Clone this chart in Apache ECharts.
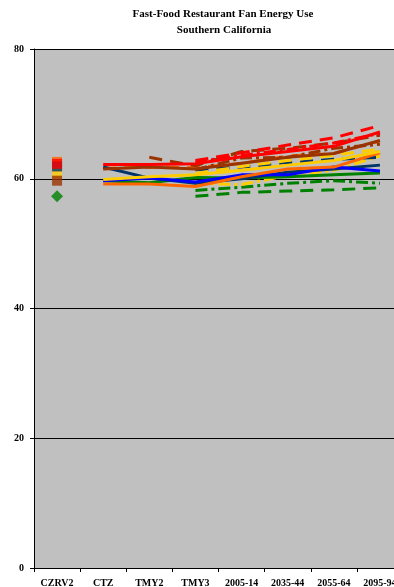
<!DOCTYPE html>
<html><head><meta charset="utf-8">
<script src="https://cdn.jsdelivr.net/npm/echarts@6/dist/echarts.min.js"></script>
<style>html,body{margin:0;padding:0;background:#fff;overflow:hidden}#c{width:410px;height:587px}</style>
</head><body><div id="c"></div>
<script>
var categories = ['CZRV2','CTZ','TMY2','TMY3','2005-14','2035-44','2055-64','2095-94'];
var yTicks = [0, 20, 40, 60, 80];

// CZRV2 single markers
var czOrange = 62.6, czNavy = 61.9, czYellow = 60.9, czRed = 62.3, czBrown = 59.7, czGreen = 57.3;

// solid lines (CTZ .. 2095-94)
var redSolid    = [null, 62.2, 62.2, 62.3, 63.4, 64.2, 65.0, 67.2];
var brownSolid  = [null, 61.5, 61.8, 61.5, 62.4, 63.3, 63.9, 65.9];
var yellowSolid = [null, 59.9, 60.3, 60.6, 61.3, 62.1, 62.8, 64.2];
var orangeSolid = [null, 59.2, 59.2, 58.8, 60.3, 61.5, 61.8, 64.0];
var navySolid   = [null, 61.8, 60.1, 59.3, 60.0, 61.0, 61.5, 62.1];
var blueSolid   = [null, 59.7, 60.1, 59.5, 60.6, 60.6, 61.8, 61.2];
var greenSolid  = [null, 59.7, 59.4, 60.2, 60.1, 60.3, 60.6, 60.9];

// dashed lines
var redDash     = [null, null, null, 62.8, 64.0, 65.2, 66.3, 68.2];
var brownDash   = [null, null, 63.3, 62.0, 64.2, 64.7, 65.5, 66.7];
var yellowDash  = [null, null, null, 60.8, 61.9, 62.8, 63.6, 64.6];
var orangeDash  = [null, 61.6, 61.8, 61.7, 62.4, 63.5, 63.9, 65.8];
var navyDash    = [null, null, null, 61.4, 61.8, 62.5, 63.0, 63.3];
var greenDash   = [null, null, null, 57.3, 57.9, 58.1, 58.3, 58.6];

// dash-dot lines
var redDashDot    = [null, null, null, 62.6, 63.6, 64.5, 65.5, 67.0];
var brownDashDot  = [null, null, null, 61.4, 63.2, 63.3, 64.7, 65.3];
var yellowDashDot = [null, null, null, 59.3, 59.1, 60.5, 61.3, 63.5];
var greenDashDot  = [null, null, null, 58.2, 58.7, 59.3, 59.7, 59.3];

var C = {red:'#FF0000', brown:'#993300', yellow:'#FFCC00', orange:'#FF6600', navy:'#003366', blue:'#0000FF', green:'#008000'};
var DASH = [13, 8];
var DASHDOT = [12, 4, 3, 4];

function line(data, color, type, w) {
  return {type:'line', data:data, symbol:'none', silent:true, animation:false,
    lineStyle:{color:color, width:w || 3, type:type}};
}
function marker(val, color, sym) {
  var d = categories.map(function(c, i){ return i === 0 ? val : null; });
  return {type:'scatter', data:d, symbol:sym || 'rect', symbolSize: sym === 'diamond' ? 12 : 10,
    itemStyle:{color:color}, animation:false, silent:true};
}

var series = [
  line(greenDash, C.green, DASH, 3),
  line(greenDashDot, C.green, DASHDOT, 3),
  line(yellowDashDot, C.yellow, DASHDOT, 3),
  line(navyDash, C.navy, DASH, 3),
  line(orangeDash, C.orange, DASH, 3),
  line(brownDashDot, C.brown, DASHDOT, 3),
  line(brownDash, C.brown, DASH, 3),
  line(yellowDash, C.yellow, DASH, 3),
  line(redDashDot, C.red, DASHDOT, 3),
  line(redDash, C.red, DASH, 3),
  line(greenSolid, C.green, 'solid', 3),
  line(navySolid, C.navy, 'solid', 3),
  line(blueSolid, C.blue, 'solid', 3),
  line(orangeSolid, C.orange, 'solid', 3),
  line(yellowSolid, C.yellow, 'solid', 3),
  line(brownSolid, C.brown, 'solid', 3),
  line(redSolid, C.red, 'solid', 3),
  marker(czOrange, C.orange),
  marker(czYellow, C.yellow),
  marker(czNavy, C.navy),
  marker(czRed, C.red),
  marker(czBrown, C.brown),
  marker(czGreen, C.green, 'diamond')
];

var chart = echarts.init(document.getElementById('c'), null, {renderer:'canvas'});
var font = 'Liberation Serif';
chart.setOption({
  animation:false,
  backgroundColor:'#ffffff',
  graphic:[
    {type:'text', x:223, y:14, style:{text:'Fast-Food Restaurant Fan Energy Use', font:'bold 11px "Liberation Serif"', fill:'#000', align:'center', verticalAlign:'middle'}},
    {type:'text', x:224, y:30, style:{text:'Southern California', font:'bold 11px "Liberation Serif"', fill:'#000', align:'center', verticalAlign:'middle'}}
  ],
  grid:{left:34, top:49, right:7, bottom:19, show:true, backgroundColor:'#C0C0C0', borderWidth:0, containLabel:false, outerBoundsMode:'none'},
  xAxis:{type:'category', data:categories, boundaryGap:true,
    axisLine:{lineStyle:{color:'#000', width:1}},
    axisTick:{show:true, length:4, lineStyle:{color:'#000'}},
    axisLabel:{color:'#000', fontFamily:font, fontWeight:'bold', fontSize:10, margin:10, interval:0},
    splitLine:{show:false}},
  yAxis:{type:'value', min:yTicks[0], max:yTicks[yTicks.length-1], interval:20,
    axisLine:{show:true, lineStyle:{color:'#000', width:1}},
    axisTick:{show:true, length:4, lineStyle:{color:'#000'}},
    axisLabel:{color:'#000', fontFamily:font, fontWeight:'bold', fontSize:10, margin:10},
    splitLine:{show:true, lineStyle:{color:'#000', width:1}}},
  series:series
});
</script></body></html>
